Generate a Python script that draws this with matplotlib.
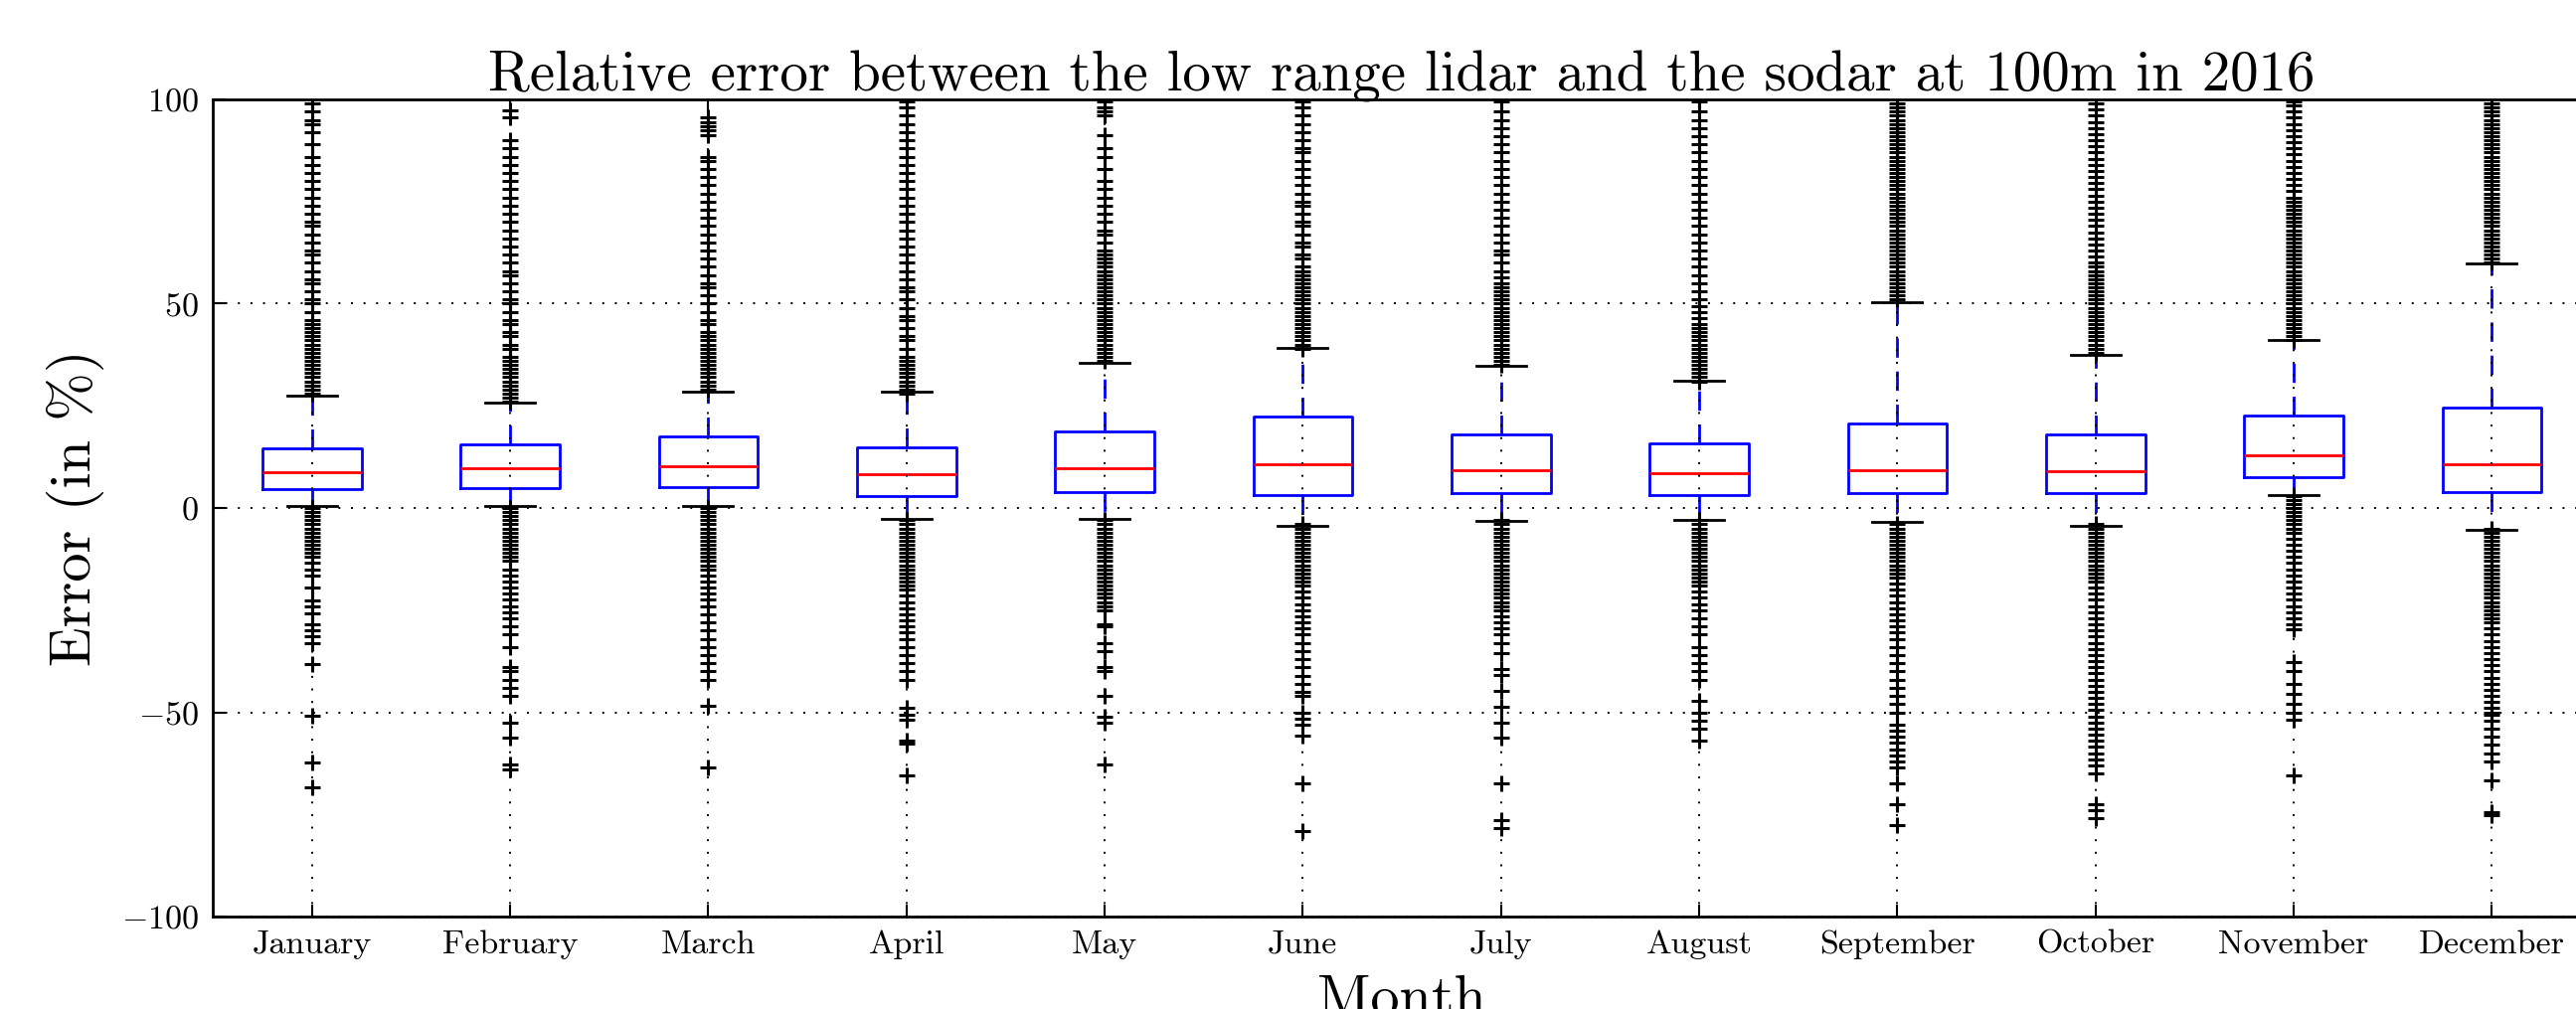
import numpy as np
import matplotlib
matplotlib.use("Agg")
import matplotlib.pyplot as plt

plt.rcParams['font.family'] = 'cmr10'
plt.rcParams['mathtext.fontset'] = 'cm'
plt.rcParams['axes.formatter.use_mathtext'] = True

months = ['January', 'February', 'March', 'April', 'May', 'June', 'July',
          'August', 'September', 'October', 'November', 'December']

medians = [8.7, 9.7, 10.2, 8.2, 9.7, 10.8, 9.2, 8.4, 9.2, 8.9, 12.8, 10.8]
q1 = [4.7, 4.8, 5.2, 3.0, 3.9, 3.2, 3.6, 3.2, 3.6, 3.6, 7.6, 4.0]
q3 = [14.6, 15.5, 17.5, 14.9, 18.8, 22.4, 17.9, 15.9, 20.7, 18.1, 22.7, 24.5]
whis_lo = [0.5, 0.4, 0.5, -2.7, -2.6, -4.3, -3.2, -3.0, -3.5, -4.3, 3.2, -5.4]
whis_hi = [27.6, 25.9, 28.5, 28.4, 35.6, 39.2, 34.8, 31.1, 50.4, 37.4, 41.1, 59.8]

fliers_jan = [28, 29, 30, 31, 32, 33, 34, 35, 36, 37, 38, 39, 40, 41, 42, 43, 44, 45, 46,
              48, 50, 51, 53, 55, 56, 58, 60, 62, 63, 65, 67, 69, 70, 72, 74, 76, 78, 80,
              82, 84, 86, 89, 92, 94, 95, 97, 99,
              0, -1, -2, -3, -4, -5, -6, -7, -8, -9, -10, -11, -12, -13.5, -15, -16.5,
              -19.4, -22.7, -24, -25.9, -28.5, -30, -31.5, -33, -38.2, -50.9, -62.4, -68.3]
fliers_feb = [26, 27, 28, 29, 30, 31, 32, 33, 34, 35, 36, 37, 39, 40, 42, 43, 45, 46, 48,
              50, 51, 53, 55, 57, 58, 60, 62, 64, 66, 68, 70, 72, 74, 76, 78, 80, 82, 84,
              86, 88, 90, 95.5, 97.2,
              0, -1, -2, -3, -4, -5, -6, -7, -8, -9, -10, -11, -12, -13, -15, -16.5, -18,
              -19.5, -21, -22.5, -24, -25.5, -27, -29, -31, -34, -39, -40, -42, -44, -46,
              -52.5, -56.3, -62.8, -64]
fliers_mar = [29, 30, 31, 32, 33, 34, 35, 36, 37, 38, 39, 40, 41, 42, 43, 45, 46, 48, 50,
              52, 54, 55, 57, 59, 61, 63, 65, 67, 69, 71, 73, 75, 77, 79, 81, 83, 85, 86,
              91.3, 92.5, 93.5, 94.5, 95.5,
              0, -1, -2, -3, -4, -5, -6, -7, -8, -9, -10, -11, -12, -13, -14, -15, -16.5,
              -18, -19.5, -21, -22.5, -24, -26, -28, -30, -32, -34, -36, -38, -40, -42,
              -48.3, -63.5]
fliers_apr = [28, 29, 30, 31, 32, 33, 34, 35, 36, 37, 39, 41, 42, 44, 46, 47, 49, 51, 53,
              54, 56, 58, 60, 62, 64, 66, 68, 70, 72, 74, 76, 78, 80, 82, 84, 86, 88, 90,
              92, 94, 96, 98, 99.5,
              -3, -4, -5, -6, -7, -8, -9, -10, -11, -12, -13, -14, -15, -16, -17, -18, -19,
              -20, -21.5, -23, -24.5, -26, -27.5, -29, -30.5, -32, -34, -36, -38, -40, -42,
              -49, -50.5, -51.8, -57, -57.6, -65.4]
fliers_may = [36, 37, 38, 39, 40, 41, 42, 43, 44, 45, 46, 47, 48, 49, 50, 51, 52, 53, 54,
              55, 56, 57, 58, 59, 60, 61, 62, 63, 65, 67, 68, 70, 72, 74, 76, 78, 80, 83,
              86, 88, 91.3, 96, 97, 98, 99.5,
              -3, -4, -5, -6, -7, -8, -9, -10, -11, -12, -13, -14, -15, -16, -17, -18, -19,
              -20, -21, -22, -23, -24, -25, -28.5, -29, -33, -35, -39, -40, -46, -51, -52.5,
              -62.8]
fliers_jun = [39, 40, 41, 42, 43, 44, 45, 46, 47, 48, 49, 50, 51, 52, 53, 54, 55, 56, 57,
              58, 59, 61, 62, 64, 65, 67, 69, 70, 72, 74, 75, 77, 79, 81, 83, 85, 87, 88,
              90, 92, 94, 96, 98, 99.5,
              -4, -5, -6, -7, -8, -9, -10, -11, -12, -13, -14, -15, -16, -17, -18, -19,
              -20.5, -22, -23.5, -25, -26.5, -28, -29.5, -31, -33, -35, -37, -39, -41, -43,
              -45, -46, -50, -51.5, -53, -55.7, -67.4, -79]
fliers_jul = [35, 36, 37, 38, 39, 40, 41, 42, 43, 44, 45, 46, 47, 48, 49, 50, 51, 52, 53,
              54, 55, 56.5, 58, 60, 62, 63, 65, 67, 69, 71, 73, 75, 77, 79, 81, 83, 85, 87,
              89, 91, 93, 95, 97, 99.5,
              -3, -4, -5, -6, -7, -8, -9, -10, -11, -12, -13, -14, -15, -16, -17, -18, -19,
              -20, -21, -22, -23, -24, -25, -26.5, -28, -29.5, -31, -33, -35.6, -39.5,
              -40.8, -44.7, -48.6, -52.5, -56.3, -67.4, -76.4, -78.4]
fliers_aug = [31, 32, 33, 34, 35, 36, 37, 38, 39, 40, 41, 42, 43, 44, 45, 46.5, 48, 49.5,
              51, 53, 55, 57, 59, 61, 63, 65, 67, 69, 71, 73, 75, 77, 79, 81, 83, 85, 87,
              89, 91, 93, 95, 97, 99.5,
              -3, -4, -5, -6, -7, -8, -9, -10, -11, -12, -13, -14, -15, -16, -17, -18, -19,
              -20.5, -22, -23.5, -25, -27, -29, -31, -34, -36, -38, -40, -42, -47.3, -50,
              -52, -54, -57]
fliers_sep = [51, 52, 53, 54, 55, 56, 57, 58, 59, 60, 61, 62, 63, 64, 65, 66, 67, 68, 69,
              70, 71, 72, 73, 74, 75, 76, 77, 78, 79, 80, 81, 82, 83, 84, 85, 86, 87, 88,
              89, 90, 91, 92, 93, 94, 95, 96, 97, 98, 99,
              -4, -5, -6, -7, -8, -9, -10, -11, -12, -13, -14, -15, -16, -17, -18.5, -20,
              -21.5, -23, -24.5, -26, -27.5, -29, -30.5, -32, -34, -36, -38, -40, -42, -44,
              -46, -48, -50, -53, -54.5, -56, -57.5, -59, -60.5, -62, -63.5, -67.4, -72.5,
              -77.7]
fliers_oct = [38, 39, 40, 41, 42, 43, 44, 45, 46, 47, 48, 49, 50, 51, 52, 53, 54, 55, 56,
              57, 58, 59, 60, 61.5, 63, 64.5, 66, 67.5, 69, 70.5, 72, 73.5, 75, 76.5, 78,
              79.5, 81, 82.5, 84, 85.5, 87, 88.5, 90, 91.5, 93, 94.5, 96, 97.5, 99,
              -4, -5, -6, -7, -8, -9, -10, -11, -12, -13, -14, -15, -16, -17, -18, -19.5,
              -21, -22.5, -24, -25.5, -27, -28.5, -30, -31.5, -33, -34.5, -36, -37.5, -39,
              -40.5, -42, -43.5, -45, -46.5, -48, -49.5, -51, -52.5, -54, -55.5, -57, -58.5,
              -60, -61.5, -63, -65, -72.5, -74, -75.8]
fliers_nov = [41, 42, 43, 44, 45, 46, 47, 48, 49, 50, 51, 52, 53, 54, 55, 56, 57, 58, 59,
              60, 61, 62, 63, 64, 65, 66, 67, 68, 69, 70, 71, 72, 73, 74, 75, 76, 77.5, 79,
              80.5, 82, 83.5, 85, 86.5, 88, 89.5, 91, 92.5, 94, 95.5, 97, 98.5, 99.5,
              3, 2, 1, 0, -1, -2, -3, -4, -5, -6, -7.5, -9, -10.5, -12, -13.5, -15, -16.5,
              -18, -19.5, -21, -22.5, -24, -25.5, -27, -28.5, -29.8, -37.6, -40, -43,
              -45.5, -48, -50, -51.8, -65.4]
fliers_dec = [60, 61, 62, 63, 64, 65, 66, 67, 68, 69, 70, 71, 72, 73, 74, 75, 76, 77, 78,
              79, 80, 81, 82, 83, 84, 85, 86, 87, 88, 89, 90, 91, 92, 93, 94, 95, 96, 97,
              98, 99,
              -5, -6, -7, -8, -9, -10, -11, -12, -13, -14, -15, -16, -17, -18, -19, -20,
              -21, -22, -23, -24, -25, -26, -27, -28, -29.5, -31, -32.5, -34, -35.5, -37,
              -38.5, -40, -41.5, -43, -44.5, -46, -47.5, -49, -50, -50.5, -52, -54, -56,
              -58, -60, -62, -66.7, -74.5, -75.1]

fliers = [fliers_jan, fliers_feb, fliers_mar, fliers_apr, fliers_may, fliers_jun,
          fliers_jul, fliers_aug, fliers_sep, fliers_oct, fliers_nov, fliers_dec]

stats = []
for i in range(len(months)):
    stats.append(dict(label=months[i], med=medians[i], q1=q1[i], q3=q3[i],
                      whislo=whis_lo[i], whishi=whis_hi[i], fliers=fliers[i]))

fig = plt.figure(figsize=(25.91, 10.15), dpi=100)
ax = fig.add_axes([0.0826, 0.0916, 0.9232, 0.8099])

ax.bxp(stats, positions=range(1, 13), widths=0.5,
       boxprops=dict(color='blue', linewidth=2),
       whiskerprops=dict(color='blue', linewidth=2, linestyle=(0, (7, 5))),
       capprops=dict(color='black', linewidth=2),
       medianprops=dict(color='red', linewidth=2),
       flierprops=dict(marker='+', markersize=12, markeredgewidth=2.2,
                       markeredgecolor='black', linestyle='none'))

ax.set_xlim(0.5, 12.5)
ax.set_ylim(-100, 100)
ax.set_yticks([-100, -50, 0, 50, 100])
ax.set_axisbelow(False)
ax.grid(True, color='black', linestyle=(0, (1, 5.5)), linewidth=1.4)
ax.tick_params(direction='in', length=9, width=1.5, top=True, right=True,
               labelsize=24.5, pad=10)
for s in ax.spines.values():
    s.set_linewidth(2)

ax.set_title('Relative error between the low range lidar and the sodar at 100m in 2016',
             fontsize=41, pad=6)
ax.set_ylabel('Error (in %)', fontsize=42, labelpad=12)
ax.set_xlabel('Month', fontsize=42, labelpad=11)

plt.savefig('out.png', dpi=100)
